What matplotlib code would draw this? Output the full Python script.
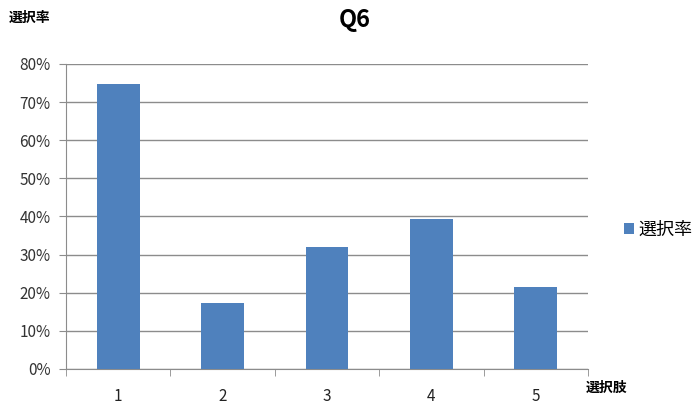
import matplotlib.pyplot as plt
from matplotlib.ticker import PercentFormatter

plt.rcParams['font.family'] = ['Noto Sans CJK JP', 'DejaVu Sans']

# データ
choices = ['1', '2', '3', '4', '5']
rates = [74.7, 17.2, 32.1, 39.4, 21.4]

fig = plt.figure(figsize=(6.93, 4.05), dpi=100)
ax = fig.add_axes([0.0952, 0.0889, 0.7533, 0.7531])

x = range(len(choices))
ax.bar(x, rates, width=0.41, color='#4F81BD', label='選択率', zorder=3)

ax.set_xlim(-0.5, len(choices) - 0.5)
ax.set_ylim(0, 80)
ax.set_yticks(range(0, 81, 10))
ax.yaxis.set_major_formatter(PercentFormatter(decimals=0))
ax.grid(axis='y', color='#8c8c8c', linewidth=1, zorder=0)

ax.set_xticks(list(x))
ax.set_xticklabels(choices)
ax.set_xticks([i - 0.5 for i in range(len(choices) + 1)], minor=True)
ax.tick_params(axis='x', which='major', length=0, pad=14, labelsize=11, labelcolor='#222222')
ax.tick_params(axis='x', which='minor', length=5, color='#8c8c8c', direction='out')
ax.tick_params(axis='y', length=5, color='#8c8c8c', labelsize=11, labelcolor='#333333', pad=6)

for side in ['top', 'right']:
    ax.spines[side].set_visible(False)
for side in ['left', 'bottom']:
    ax.spines[side].set_color('#8c8c8c')

fig.text(0.512, 0.95, 'Q6', ha='center', va='center', fontsize=17, fontweight='bold')
fig.text(0.012, 0.955, '選択率', ha='left', va='center', fontsize=10, fontweight='bold')
fig.text(0.845, 0.043, '選択肢', ha='left', va='center', fontsize=10, fontweight='bold')

fig.legend(loc='center left', bbox_to_anchor=(0.888, 0.432), frameon=False,
           fontsize=13, handlelength=0.55, handleheight=0.55, handletextpad=0.2,
           borderpad=0)

fig.savefig('out.png', dpi=100)
